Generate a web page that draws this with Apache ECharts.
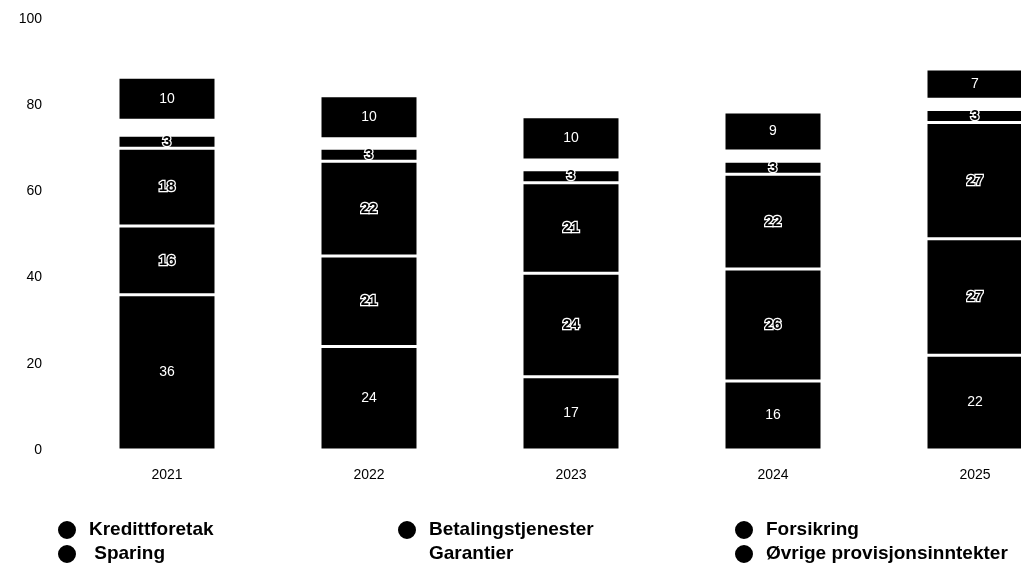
<!DOCTYPE html>
<html><head><meta charset="utf-8">
<script src="https://cdn.jsdelivr.net/npm/echarts@6/dist/echarts.min.js"></script>
<style>html,body{margin:0;padding:0;background:#fff}#c{width:1021px;height:567px}</style>
</head><body><div id="c"></div>
<script>
var categories = ['2021','2022','2023','2024','2025'];
var kredittforetak = [36,24,17,16,22];
var sparing = [16,21,24,26,27];
var betalingstjenester = [18,22,21,22,27];
var forsikring = [3,3,3,3,3];
var garantier = [3.5,2.2,2.3,2.4,2.4];
var ovrige = [10,10,10,9,7];
var yTicks = [0,20,40,60,80,100];

var font = 'Liberation Sans, Arial, sans-serif';
var plainLabel = {show:true, color:'#fff', fontSize:14, fontFamily:font,
  formatter:function(p){return Math.round(p.value);}};
var outlineLabel = {show:true, color:'#000', fontSize:15, fontWeight:'bold', fontFamily:font,
  textBorderColor:'#fff', textBorderWidth:2.5,
  formatter:function(p){return Math.round(p.value);}};
function mk(name, data, color, label){
  return {name:name, type:'bar', stack:'s', data:data, barWidth:98,
    itemStyle:{color:color, borderColor:'#fff', borderWidth:1.5},
    label:label, emphasis:{disabled:true}};
}
var legendText = {fontSize:19, fontWeight:'bold', color:'#000', fontFamily:font, padding:[6,0,0,7]};
function lg(left, top, name){
  return {orient:'horizontal', left:left, top:top, padding:0, itemWidth:20, itemHeight:20,
    icon:'circle', data:[name], textStyle:legendText, selectedMode:false,
    formatter:function(n){return n==='Sparing' ? ' Sparing' : n;}};
}
var chart = echarts.init(document.getElementById('c'));
chart.setOption({
  animation:false,
  grid:{left:66, right:-55, top:19, bottom:117, outerBoundsMode:'none', containLabel:false},
  legend:[lg(56,519,'Kredittforetak'), lg(56,543,'Sparing'),
          lg(396,519,'Betalingstjenester'), lg(396,543,'Garantier'),
          lg(733,519,'Forsikring'), lg(733,543,'Øvrige provisjonsinntekter')],
  xAxis:{type:'category', data:categories, axisLine:{show:false}, axisTick:{show:false},
    axisLabel:{fontSize:14, color:'#000', fontFamily:font, margin:18}},
  yAxis:{type:'value', min:yTicks[0], max:yTicks[yTicks.length-1], interval:20,
    axisLine:{show:false}, axisTick:{show:false}, splitLine:{show:false},
    axisLabel:{fontSize:14, color:'#000', fontFamily:font, margin:24}},
  series:[
    mk('Kredittforetak', kredittforetak, '#000', plainLabel),
    mk('Sparing', sparing, '#000', outlineLabel),
    mk('Betalingstjenester', betalingstjenester, '#000', outlineLabel),
    mk('Forsikring', forsikring, '#000', outlineLabel),
    mk('Garantier', garantier, '#fff', {show:false}),
    mk('Øvrige provisjonsinntekter', ovrige, '#000', plainLabel)
  ]
});
</script></body></html>
